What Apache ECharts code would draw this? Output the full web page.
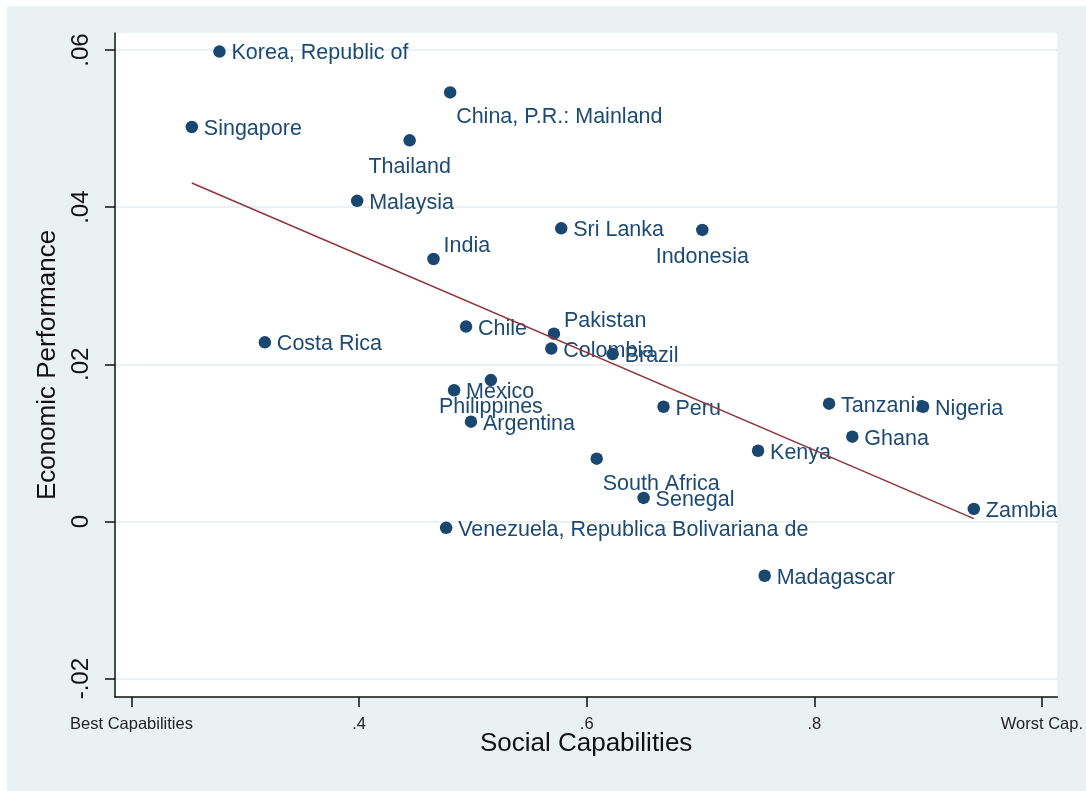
<!DOCTYPE html>
<html>
<head>
<meta charset="utf-8">
<script src="https://cdn.jsdelivr.net/npm/echarts@6/dist/echarts.min.js"></script>
<style>
  html, body { margin:0; padding:0; background:#ffffff; }
  #bg { position:absolute; left:7px; top:6px; width:1079px; height:785px; background:#e9f1f3; }
  #chart { position:absolute; left:0; top:0; width:1086px; height:791px; }
</style>
</head>
<body>
<div id="bg"></div>
<div id="chart"></div>
<script>
const countries = ['Korea, Republic of','Singapore','China, P.R.: Mainland','Thailand','Malaysia','Sri Lanka','Indonesia','India','Costa Rica','Chile','Pakistan','Colombia','Brazil','Mexico','Philippines','Argentina','Peru','Tanzania','Nigeria','Ghana','Kenya','South Africa','Senegal','Zambia','Venezuela, Republica Bolivariana de','Madagascar'];
const socialCap = [0.2773,0.2530,0.4800,0.4444,0.3983,0.5776,0.7016,0.4654,0.3172,0.4940,0.5712,0.5689,0.6228,0.4835,0.5158,0.4983,0.6675,0.8130,0.8956,0.8334,0.7506,0.6088,0.6500,0.9402,0.4765,0.7564];
const econPerf = [0.0598,0.0502,0.0546,0.0485,0.0408,0.0373,0.0371,0.0334,0.0228,0.0248,0.0239,0.0220,0.0213,0.0167,0.0180,0.0127,0.0146,0.0150,0.0146,0.0108,0.0090,0.0080,0.0030,0.0016,-0.0008,-0.0069];
// marker-label clock position (Stata style)
const labelClock = [3,3,5,6,3,3,6,1,3,3,1,3,3,3,6,3,3,3,3,3,3,5,3,3,3,3];
const xTickValues = [0.2,0.4,0.6,0.8,1.0];
const xTickLabels = ['Best Capabilities','.4','.6','.8','Worst Cap.'];
const yTickValues = [-0.02,0,0.02,0.04,0.06];
const yTickLabels = ['-.02','0','.02','.04','.06'];

const FONT = '"Liberation Sans", Arial, sans-serif';
const NAVY = '#1a476f';

const clockStyle = {
  3: {align:'left', offset:[12, 2]},
  6: {align:'center', offset:[0, 27]},
  5: {align:'left', offset:[6, 25]},
  1: {align:'left', offset:[10, -13]}
};

const points = countries.map((c, i) => {
  const cs = clockStyle[labelClock[i]];
  return {
    name: c,
    value: [socialCap[i], econPerf[i]],
    label: {position:'inside', align: cs.align, verticalAlign:'middle', offset: cs.offset}
  };
});

// OLS linear fit (like Stata lfit)
const n = socialCap.length;
const mx = socialCap.reduce((a,b)=>a+b,0)/n;
const my = econPerf.reduce((a,b)=>a+b,0)/n;
let sxy = 0, sxx = 0;
for (let i=0;i<n;i++){ sxy += (socialCap[i]-mx)*(econPerf[i]-my); sxx += (socialCap[i]-mx)**2; }
const slope = sxy/sxx, icpt = my - slope*mx;
const xmin = Math.min(...socialCap), xmax = Math.max(...socialCap);
const fitData = [[xmin, icpt+slope*xmin],[xmax, icpt+slope*xmax]];

function lookup(vals, labels, v){
  let best = 0;
  for (let i=1;i<vals.length;i++) if (Math.abs(vals[i]-v) < Math.abs(vals[best]-v)) best = i;
  return labels[best];
}

const chart = echarts.init(document.getElementById('chart'), null, {renderer:'canvas'});
chart.setOption({
  animation: false,
  grid: {left:115, top:33, right:24, bottom:94, show:true, backgroundColor:'#ffffff', borderWidth:0, containLabel:false},
  xAxis: {
    type:'value', min:0.1855, max:1.0135,
    name:'Social Capabilities', nameLocation:'middle', nameGap:34, nameMoveOverlap:false,
    nameTextStyle:{fontFamily:FONT, fontSize:26, color:'#111'},
    axisLine:{show:true, onZero:false, lineStyle:{color:'#111', width:1.5}},
    axisTick:{show:true, length:10, lineStyle:{color:'#111', width:1.5}, customValues: xTickValues},
    axisLabel:{show:true, margin:19, fontFamily:FONT, fontSize:16.5, color:'#222', customValues: xTickValues,
      formatter: v => lookup(xTickValues, xTickLabels, v)},
    splitLine:{show:false}
  },
  yAxis: {
    type:'value', min:-0.02233, max:0.06216,
    name:'Economic Performance', nameLocation:'middle', nameGap:54, nameMoveOverlap:false,
    nameTextStyle:{fontFamily:FONT, fontSize:26, color:'#111'},
    axisLine:{show:true, onZero:false, lineStyle:{color:'#111', width:1.5}},
    axisTick:{show:true, length:10, lineStyle:{color:'#111', width:1.5}, customValues: yTickValues},
    axisLabel:{show:true, rotate:90, margin:22, fontFamily:FONT, fontSize:24, color:'#111', customValues: yTickValues,
      formatter: v => lookup(yTickValues, yTickLabels, v)},
    splitLine:{show:true, lineStyle:{color:'#e3ebf0', width:1.5}}
  },
  series: [
    {
      type:'scatter', data: points, symbol:'circle', symbolSize:12.5,
      itemStyle:{color:NAVY, opacity:1},
      label:{show:true, formatter: p => p.name, fontFamily:FONT, fontSize:21.5, color:'#1d4a72'},
      z:2
    },
    {
      type:'line', data: fitData, symbol:'none', lineStyle:{color:'#90353b', width:1.5}, z:3, silent:true
    }
  ]
});
</script>
</body>
</html>
